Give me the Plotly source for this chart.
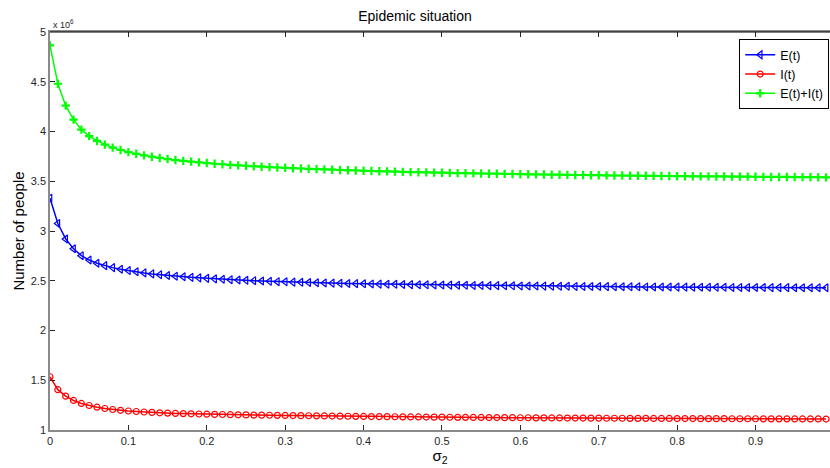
import plotly.graph_objects as go

# sigma_2 values (0.00 .. 0.99, step 0.01)
sigma2 = [round(i * 0.01, 2) for i in range(100)]

# Number of people, in units of 10^6
e_t = [3.330, 3.075, 2.920, 2.822, 2.752, 2.708, 2.676, 2.652, 2.632, 2.616,
       2.602, 2.590, 2.579, 2.569, 2.561, 2.553, 2.546, 2.540, 2.534, 2.529,
       2.524, 2.519, 2.515, 2.511, 2.507, 2.504, 2.500, 2.497, 2.494, 2.491,
       2.489, 2.486, 2.484, 2.482, 2.480, 2.478, 2.476, 2.474, 2.472, 2.471,
       2.469, 2.468, 2.466, 2.465, 2.464, 2.462, 2.461, 2.460, 2.459, 2.458,
       2.457, 2.456, 2.455, 2.454, 2.453, 2.452, 2.451, 2.451, 2.450, 2.449,
       2.448, 2.447, 2.447, 2.446, 2.445, 2.445, 2.444, 2.443, 2.443, 2.442,
       2.442, 2.441, 2.440, 2.440, 2.439, 2.439, 2.438, 2.438, 2.437, 2.437,
       2.436, 2.436, 2.435, 2.435, 2.435, 2.434, 2.434, 2.433, 2.433, 2.433,
       2.432, 2.432, 2.431, 2.431, 2.431, 2.430, 2.430, 2.430, 2.429, 2.429]

i_t = [1.535, 1.405, 1.340, 1.297, 1.267, 1.246, 1.229, 1.216, 1.206, 1.198,
       1.191, 1.186, 1.181, 1.177, 1.173, 1.170, 1.167, 1.165, 1.163, 1.161,
       1.159, 1.157, 1.156, 1.154, 1.153, 1.152, 1.150, 1.149, 1.148, 1.147,
       1.146, 1.145, 1.144, 1.143, 1.142, 1.141, 1.140, 1.139, 1.138, 1.137,
       1.136, 1.135, 1.134, 1.134, 1.133, 1.132, 1.131, 1.131, 1.130, 1.129,
       1.129, 1.128, 1.127, 1.127, 1.126, 1.126, 1.125, 1.125, 1.124, 1.124,
       1.123, 1.123, 1.122, 1.122, 1.121, 1.121, 1.120, 1.120, 1.120, 1.119,
       1.119, 1.118, 1.118, 1.118, 1.117, 1.117, 1.117, 1.116, 1.116, 1.116,
       1.115, 1.115, 1.115, 1.114, 1.114, 1.114, 1.114, 1.113, 1.113, 1.113,
       1.113, 1.112, 1.112, 1.112, 1.112, 1.111, 1.111, 1.111, 1.111, 1.110]

ei_t = [4.865, 4.480, 4.260, 4.119, 4.019, 3.954, 3.905, 3.868, 3.838, 3.814,
        3.793, 3.776, 3.760, 3.746, 3.734, 3.723, 3.713, 3.705, 3.697, 3.690,
        3.683, 3.676, 3.671, 3.665, 3.660, 3.656, 3.650, 3.646, 3.642, 3.638,
        3.635, 3.631, 3.628, 3.625, 3.622, 3.619, 3.616, 3.613, 3.610, 3.608,
        3.605, 3.603, 3.600, 3.599, 3.597, 3.594, 3.592, 3.591, 3.589, 3.587,
        3.586, 3.584, 3.582, 3.581, 3.579, 3.578, 3.576, 3.576, 3.574, 3.573,
        3.571, 3.570, 3.569, 3.568, 3.566, 3.566, 3.564, 3.563, 3.563, 3.561,
        3.561, 3.559, 3.558, 3.558, 3.556, 3.556, 3.555, 3.554, 3.553, 3.553,
        3.551, 3.551, 3.550, 3.549, 3.549, 3.548, 3.548, 3.546, 3.546, 3.546,
        3.545, 3.544, 3.543, 3.543, 3.543, 3.541, 3.541, 3.541, 3.540, 3.539]

x_ticks = [0, 0.1, 0.2, 0.3, 0.4, 0.5, 0.6, 0.7, 0.8, 0.9]
y_ticks = [1, 1.5, 2, 2.5, 3, 3.5, 4, 4.5, 5]

FONT = "Liberation Sans, Arial, sans-serif"

fig = go.Figure()
fig.add_trace(go.Scatter(
    x=sigma2, y=e_t, mode="lines+markers", name="E(t)",
    line=dict(color="#0000FF", width=1.5),
    marker=dict(symbol="triangle-left-open", size=7, color="#0000FF",
                line=dict(width=1.2, color="#0000FF"))))
fig.add_trace(go.Scatter(
    x=sigma2, y=i_t, mode="lines+markers", name="I(t)",
    line=dict(color="#FF0000", width=1.5),
    marker=dict(symbol="circle-open", size=6, color="#FF0000",
                line=dict(width=1.2, color="#FF0000"))))
fig.add_trace(go.Scatter(
    x=sigma2, y=ei_t, mode="lines+markers", name="E(t)+I(t)",
    line=dict(color="#00FF00", width=1.5),
    marker=dict(symbol="cross-thin-open", size=6, color="#00FF00",
                line=dict(width=2.2, color="#00FF00"))))

fig.update_layout(
    width=830, height=468,
    margin=dict(l=50, r=0, t=32, b=38),
    paper_bgcolor="white", plot_bgcolor="white",
    font=dict(family=FONT, size=11, color="#262626"),
    title=dict(text="Epidemic situation", x=0.5, xanchor="center",
               y=1 - 16 / 468, yanchor="middle",
               font=dict(family=FONT, size=14, color="#000000")),
    showlegend=True,
    legend=dict(x=0.999, xanchor="right", y=0.982, yanchor="top",
                bgcolor="white", bordercolor="#000000", borderwidth=1,
                font=dict(family=FONT, size=12.5, color="#000000"),
                tracegroupgap=0, itemwidth=30),
)

fig.update_xaxes(
    range=[0, 0.995], tickvals=x_ticks, ticktext=[str(v) for v in x_ticks],
    ticks="inside", ticklen=5, tickcolor="#262626", tickwidth=1,
    showline=True, linecolor="#8a8a8a", linewidth=1.5, mirror="ticks",
    showgrid=False, zeroline=False,
    tickfont=dict(family=FONT, size=11, color="#262626"),
    title=dict(text="σ<sub>2</sub>", standoff=4,
               font=dict(family=FONT, size=15, color="#000000")),
)
fig.update_yaxes(
    range=[1, 5], tickvals=y_ticks, ticktext=[f"{v:g}" for v in y_ticks],
    ticks="inside", ticklen=5, tickcolor="#262626", tickwidth=1,
    showline=True, linecolor="#8a8a8a", linewidth=1.5, mirror=False,
    showgrid=False, zeroline=False,
    tickfont=dict(family=FONT, size=11, color="#262626"),
    title=dict(text="Number of people", standoff=3,
               font=dict(family=FONT, size=15, color="#000000")),
)

# top border of the axes box (black in the original)
fig.add_shape(type="line", xref="paper", yref="paper", x0=0, x1=1, y0=1, y1=1,
              line=dict(color="#000000", width=1))

# exponent label
fig.add_annotation(text="x 10<sup>6</sup>", xref="paper", yref="paper",
                   x=0, y=1, xanchor="left", yanchor="bottom", showarrow=False,
                   font=dict(family=FONT, size=9, color="#262626"), xshift=1)

fig.write_html("out.html")
